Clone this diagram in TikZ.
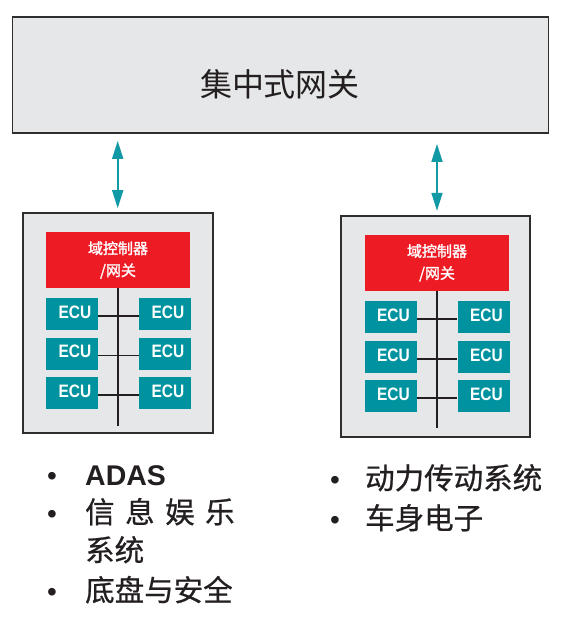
\documentclass[tikz,border=0pt]{standalone}
\usepackage{fontspec}
\setmainfont{Liberation Sans}
\newfontfamily\cjk{Noto Sans CJK SC}
\newfontfamily\cjkheavy[FakeBold=0.7]{Noto Sans CJK SC}
\newfontfamily\cjkbold[FakeBold=1.6]{Noto Sans CJK SC}
\newfontfamily\ecufont[FakeStretch=0.86]{Liberation Sans Bold}
\usetikzlibrary{arrows.meta}
\definecolor{boxgray}{HTML}{E6E7E8}
\definecolor{edgegray}{HTML}{2E2E2E}
\definecolor{ecuteal}{HTML}{00939F}
\definecolor{dcred}{HTML}{ED1C24}
\definecolor{arrteal}{HTML}{1199A6}
\definecolor{busline}{HTML}{231F20}
\definecolor{txt}{HTML}{231F20}
\tikzset{
  graybox/.style={draw=edgegray, line width=1.8pt, fill=boxgray, inner sep=0pt},
  redbox/.style={fill=dcred, inner sep=0pt, minimum width=144pt, minimum height=56pt,
    text=white, align=center, font=\cjkbold\fontsize{15}{22}\selectfont},
  ecubox/.style={fill=ecuteal, inner sep=0pt, minimum width=52pt, minimum height=32pt},
  ecutext/.style={text=white, inner sep=0pt, font=\ecufont\fontsize{18}{18}\selectfont},
  bus/.style={draw=busline, line width=1.6pt},
  biarrow/.style={draw=arrteal, line width=1.7pt, {Triangle[width=11pt,length=18pt]}-{Triangle[width=11pt,length=18pt]}},
  listtext/.style={anchor=base west, inner sep=0pt, text=txt, font=\cjkheavy\fontsize{29.5}{36}\selectfont},
  bullettext/.style={anchor=base, inner sep=0pt, text=txt, font=\fontsize{28}{36}\selectfont},
}
\begin{document}
\begin{tikzpicture}[x=1pt,y=-1pt]
\useasboundingbox (0,0) rectangle (563,625);
% central gateway
\node[graybox, minimum width=536pt, minimum height=116.6pt] (top) at (280.5,75) {};
\node[inner sep=0pt, text=txt, font=\cjk\fontsize{32}{32}\selectfont] (title) at (280,84) {集中式网关};
% domain boxes
\node[graybox, minimum width=190pt, minimum height=220pt] (lbox) at (117.7,322.8) {};
\node[graybox, minimum width=189pt, minimum height=221pt] (rbox) at (435.5,326.2) {};
\node[redbox] (lred) at (118,260) {域控制器\\/网关};
\node[redbox, minimum height=55.7pt] (rred) at (437,262.8) {域控制器\\/网关};
% ECUs
\foreach \n/\x/\y in {l1/72/314, l2/72/353.5, l3/72/393, m1/165/314, m2/165/353.5, m3/165/393,
                      r1/390.5/317, r2/390.5/357, r3/390.5/396, s1/483.5/317, s2/483.5/357, s3/483.5/396}{
  \node[ecubox] (e\n) at (\x,\y) {};
  \node[ecutext] (t\n) at (\x+3,\y-2) {ECU};
}
% buses
\coordinate (lbusend) at (118,426);
\coordinate (rbusend) at (437,428);
\draw[bus] (lred.south) -- (lbusend);
\draw[bus] (rred.south) -- (rbusend);
\foreach \i in {1,2,3}{
  \draw[bus] ([yshift=-2pt]el\i.east) -- ([yshift=-2pt]em\i.west);
  \draw[bus] ([yshift=-2pt]er\i.east) -- ([yshift=-2pt]es\i.west);
}
% arrows
\draw[biarrow, shorten <=6.7pt, shorten >=3.7pt] (lbox.north |- top.south) -- (lbox.north);
\draw[biarrow, shorten <=9.7pt, shorten >=4pt] ([xshift=1.5pt]rbox.north |- top.south) -- ([xshift=1.5pt]rbox.north);
% lists
\node[bullettext] (b1) at (52,485) {•};
\node[listtext, font=\bfseries\fontsize{28.5}{36}\selectfont] (a1) at (85,485) {ADAS};
\node[bullettext] (b2) at (52,523) {•};
\node[listtext] (a2) at (85,523) {信\hspace{10.5pt}息\hspace{10.5pt}娱\hspace{10.5pt}乐};
\node[listtext] (a3) at (85,561) {系统};
\node[bullettext] (b4) at (52,601) {•};
\node[listtext] (a4) at (85,601) {底盘与安全};
\node[bullettext] (b5) at (335,489) {•};
\node[listtext] (a5) at (365,489) {动力传动系统};
\node[bullettext] (b6) at (335,529) {•};
\node[listtext] (a6) at (365,529) {车身电子};
\end{tikzpicture}
\end{document}
